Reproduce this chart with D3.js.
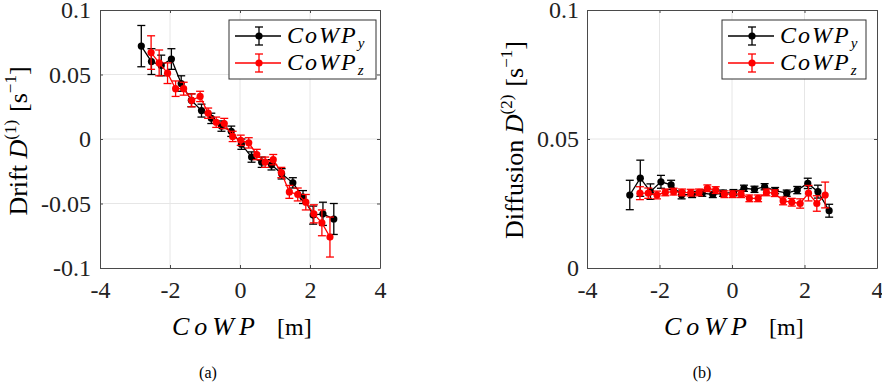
<!DOCTYPE html>
<html><head><meta charset="utf-8">
<script src="https://cdn.jsdelivr.net/npm/d3@7"></script>
<style>body{margin:0;background:#fff}svg{display:block}</style>
</head><body><svg id="c" width="882" height="382"></svg>
<script>
// ---- data ----
const xTicks = [-4, -2, 0, 2, 4];
const xTickLabels = ["-4", "-2", "0", "2", "4"];
const yTicksA = [-0.1, -0.05, 0, 0.05, 0.1];
const yTickLabelsA = ["-0.1", "-0.05", "0", "0.05", "0.1"];
const yTicksB = [0, 0.05, 0.1];
const yTickLabelsB = ["0", "0.05", "0.1"];

// CoWP_y (black) bins
const xY = [-2.82, -2.53, -2.25, -1.96, -1.68, -1.39, -1.10, -0.82, -0.53, -0.25, 0.04, 0.33, 0.62, 0.90, 1.19, 1.51, 1.80, 2.09, 2.37, 2.68];
const driftY = [0.072, 0.060, 0.057, 0.062, 0.043, 0.030, 0.022, 0.016, 0.010, 0.006, -0.004, -0.014, -0.018, -0.020, -0.027, -0.034, -0.045, -0.059, -0.058, -0.062];
const driftYErr = [0.016, 0.010, 0.008, 0.008, 0.006, 0.005, 0.005, 0.004, 0.004, 0.004, 0.004, 0.004, 0.004, 0.004, 0.004, 0.004, 0.005, 0.007, 0.009, 0.012];
const diffY = [0.0283, 0.0348, 0.0296, 0.0334, 0.0322, 0.0283, 0.0285, 0.0290, 0.0285, 0.0290, 0.0292, 0.0309, 0.0305, 0.0315, 0.0300, 0.0290, 0.0302, 0.0328, 0.0296, 0.0222];
const diffYErr = [0.0057, 0.0070, 0.0030, 0.0025, 0.0018, 0.0015, 0.0012, 0.0012, 0.0012, 0.0012, 0.0012, 0.0012, 0.0012, 0.0012, 0.0012, 0.0012, 0.0014, 0.0020, 0.0025, 0.0025];

// CoWP_z (red) bins
const xZ = [-2.54, -2.31, -2.07, -1.84, -1.61, -1.38, -1.14, -0.91, -0.68, -0.45, -0.21, 0.02, 0.25, 0.48, 0.72, 0.95, 1.18, 1.41, 1.65, 1.88, 2.11, 2.34, 2.57];
const driftZ = [0.067, 0.059, 0.051, 0.039, 0.039, 0.030, 0.033, 0.020, 0.013, 0.012, 0.002, -0.001, -0.003, -0.012, -0.018, -0.016, -0.026, -0.041, -0.043, -0.049, -0.058, -0.065, -0.076];
const driftZErr = [0.013, 0.010, 0.008, 0.006, 0.005, 0.005, 0.004, 0.004, 0.004, 0.004, 0.004, 0.004, 0.004, 0.004, 0.004, 0.004, 0.004, 0.005, 0.005, 0.006, 0.007, 0.010, 0.0155];
const diffZ = [0.0290, 0.0290, 0.0283, 0.0293, 0.0296, 0.0293, 0.0292, 0.0293, 0.0309, 0.0302, 0.0286, 0.0286, 0.0286, 0.0270, 0.0270, 0.0293, 0.0290, 0.0260, 0.0255, 0.0250, 0.0290, 0.0250, 0.0283];
const diffZErr = [0.0025, 0.0020, 0.0015, 0.0013, 0.0013, 0.0013, 0.0013, 0.0013, 0.0013, 0.0013, 0.0013, 0.0013, 0.0013, 0.0013, 0.0013, 0.0013, 0.0013, 0.0015, 0.0015, 0.0018, 0.0030, 0.0030, 0.0050];

const svg = d3.select("#c");
const SERIF = "'Liberation Serif', 'Times New Roman', Times, 'DejaVu Serif', serif";
const AX = "#4a4a4a";

function panel(o) {
  const x = d3.scaleLinear().domain([-4, 4]).range([o.left, o.right]);
  const y = d3.scaleLinear().domain(o.ydom).range([o.bottom, o.top]);
  const g = svg.append("g");
  // grid
  g.selectAll(".gx").data(xTicks.slice(1, -1)).enter().append("line")
    .attr("x1", d => x(d)).attr("x2", d => x(d)).attr("y1", o.top).attr("y2", o.bottom)
    .attr("stroke", "#e6e6e6").attr("stroke-width", 1);
  g.selectAll(".gy").data(o.yticks.slice(1, -1)).enter().append("line")
    .attr("y1", d => y(d)).attr("y2", d => y(d)).attr("x1", o.left).attr("x2", o.right)
    .attr("stroke", "#e6e6e6").attr("stroke-width", 1);
  // axes
  const ax = g.append("g").attr("transform", `translate(0,${o.bottom})`)
    .call(d3.axisBottom(x).tickValues(xTicks).tickSizeInner(-3).tickSizeOuter(0).tickPadding(10)
      .tickFormat((d, i) => xTickLabels[i]));
  const ay = g.append("g").attr("transform", `translate(${o.left},0)`)
    .call(d3.axisLeft(y).tickValues(o.yticks).tickSizeInner(-3).tickSizeOuter(0).tickPadding(o.ypad)
      .tickFormat((d, i) => o.ylabels[i]));
  const axT = g.append("g").attr("transform", `translate(0,${o.top})`)
    .call(d3.axisTop(x).tickValues(xTicks).tickSizeInner(-3).tickSizeOuter(0).tickFormat(""));
  const ayR = g.append("g").attr("transform", `translate(${o.right},0)`)
    .call(d3.axisRight(y).tickValues(o.yticks).tickSizeInner(-3).tickSizeOuter(0).tickFormat(""));
  [ax, ay, axT, ayR].forEach(a => {
    a.attr("font-family", null).attr("font-size", null);
    a.select(".domain").attr("stroke", AX);
    a.selectAll(".tick line").attr("stroke", AX);
    a.selectAll("text").attr("fill", "#222").style("font-family", SERIF).style("font-size", "24px");
  });
  ax.selectAll("text").attr("dy", "0.71em").attr("y", 13);

  // series
  function series(xs, ys, es, color) {
    const s = g.append("g");
    const pts = xs.map((v, i) => [v, ys[i], es[i]]);
    s.append("path").datum(pts)
      .attr("d", d3.line().x(d => x(d[0])).y(d => y(d[1])))
      .attr("fill", "none").attr("stroke", color).attr("stroke-width", 1.3);
    const eb = s.selectAll(".eb").data(pts).enter().append("g");
    eb.append("line").attr("x1", d => x(d[0])).attr("x2", d => x(d[0]))
      .attr("y1", d => y(d[1] - d[2])).attr("y2", d => y(d[1] + d[2]))
      .attr("stroke", color).attr("stroke-width", 1.3);
    [-1, 1].forEach(sg => {
      eb.append("line").attr("x1", d => x(d[0]) - 4).attr("x2", d => x(d[0]) + 4)
        .attr("y1", d => y(d[1] + sg * d[2])).attr("y2", d => y(d[1] + sg * d[2]))
        .attr("stroke", color).attr("stroke-width", 1.3);
    });
    s.selectAll("circle").data(pts).enter().append("circle")
      .attr("cx", d => x(d[0])).attr("cy", d => y(d[1])).attr("r", 3.6).attr("fill", color);
  }
  series(xY, o.ysY, o.esY, "#000000");
  series(xZ, o.ysZ, o.esZ, "#ff0000");

  // legend
  const L = o.legend;
  const lg = g.append("g");
  lg.append("rect").attr("x", L.x).attr("y", L.y).attr("width", L.w).attr("height", L.h)
    .attr("fill", "#fff").attr("stroke", "#333").attr("stroke-width", 1);
  [["#000000", "y", 16], ["#ff0000", "z", 43]].forEach(([c, sub, dyy]) => {
    const yy = L.y + dyy;
    lg.append("line").attr("x1", L.x + 6).attr("x2", L.x + 52).attr("y1", yy).attr("y2", yy)
      .attr("stroke", c).attr("stroke-width", 1.3);
    const cx = L.x + 30;
    lg.append("line").attr("x1", cx).attr("x2", cx).attr("y1", yy - 9).attr("y2", yy + 9).attr("stroke", c).attr("stroke-width", 1.3);
    lg.append("line").attr("x1", cx - 4).attr("x2", cx + 4).attr("y1", yy - 9).attr("y2", yy - 9).attr("stroke", c).attr("stroke-width", 1.3);
    lg.append("line").attr("x1", cx - 4).attr("x2", cx + 4).attr("y1", yy + 9).attr("y2", yy + 9).attr("stroke", c).attr("stroke-width", 1.3);
    lg.append("circle").attr("cx", cx).attr("cy", yy).attr("r", 3.6).attr("fill", c);
    const t = lg.append("text").attr("x", L.x + 58).attr("y", yy + 7)
      .style("font-family", SERIF).style("font-size", "24px").style("font-style", "italic").attr("fill", "#000")
      .attr("letter-spacing", 2);
    t.append("tspan").text("CoWP");
    t.append("tspan").attr("dy", 5).style("font-size", "15px").text(sub);
  });

  // x label
  const cxm = (o.left + o.right) / 2;
  g.append("text").attr("x", cxm - 68).attr("y", 335)
    .style("font-family", SERIF).style("font-size", "26px").style("font-style", "italic")
    .attr("letter-spacing", 5).attr("fill", "#000").text("CoWP");
  g.append("text").attr("x", cxm + 37).attr("y", 335)
    .style("font-family", SERIF).style("font-size", "24px").attr("fill", "#000").text("[m]");

  // y label
  const yl = g.append("text").attr("transform", `translate(${o.ylx},${o.ylc}) rotate(-90)`)
    .attr("text-anchor", "middle").style("font-family", SERIF).style("font-size", "26px").attr("fill", "#000");
  yl.append("tspan").text(o.yname + " ");
  yl.append("tspan").style("font-style", "italic").text("D");
  yl.append("tspan").attr("dy", -11).style("font-size", "17px").text(o.ysup);
  yl.append("tspan").attr("dy", 11).attr("dx", 8).text("[s");
  yl.append("tspan").attr("dy", -11).style("font-size", "17px").text("\u22121");
  yl.append("tspan").attr("dy", 11).text("]");

  // caption
  g.append("text").attr("x", o.capx).attr("y", 378).attr("text-anchor", "middle")
    .style("font-family", SERIF).style("font-size", "16px").attr("fill", "#000").text(o.cap);
}

panel({left: 100, right: 380, top: 10, bottom: 268, ydom: [-0.1, 0.1], yticks: yTicksA, ylabels: yTickLabelsA, ypad: 9,
  ysY: driftY, esY: driftYErr, ysZ: driftZ, esZ: driftZErr,
  legend: {x: 229, y: 20, w: 147, h: 59}, ylx: 27, ylc: 141, yname: "Drift", ysup: "(1)", cap: "(a)", capx: 208});
panel({left: 587, right: 877, top: 10, bottom: 268, ydom: [0, 0.1], yticks: yTicksB, ylabels: yTickLabelsB, ypad: 8,
  ysY: diffY, esY: diffYErr, ysZ: diffZ, esZ: diffZErr,
  legend: {x: 722, y: 20, w: 144, h: 59}, ylx: 523, ylc: 140, yname: "Diffusion", ysup: "(2)", cap: "(b)", capx: 702});
</script></body></html>
